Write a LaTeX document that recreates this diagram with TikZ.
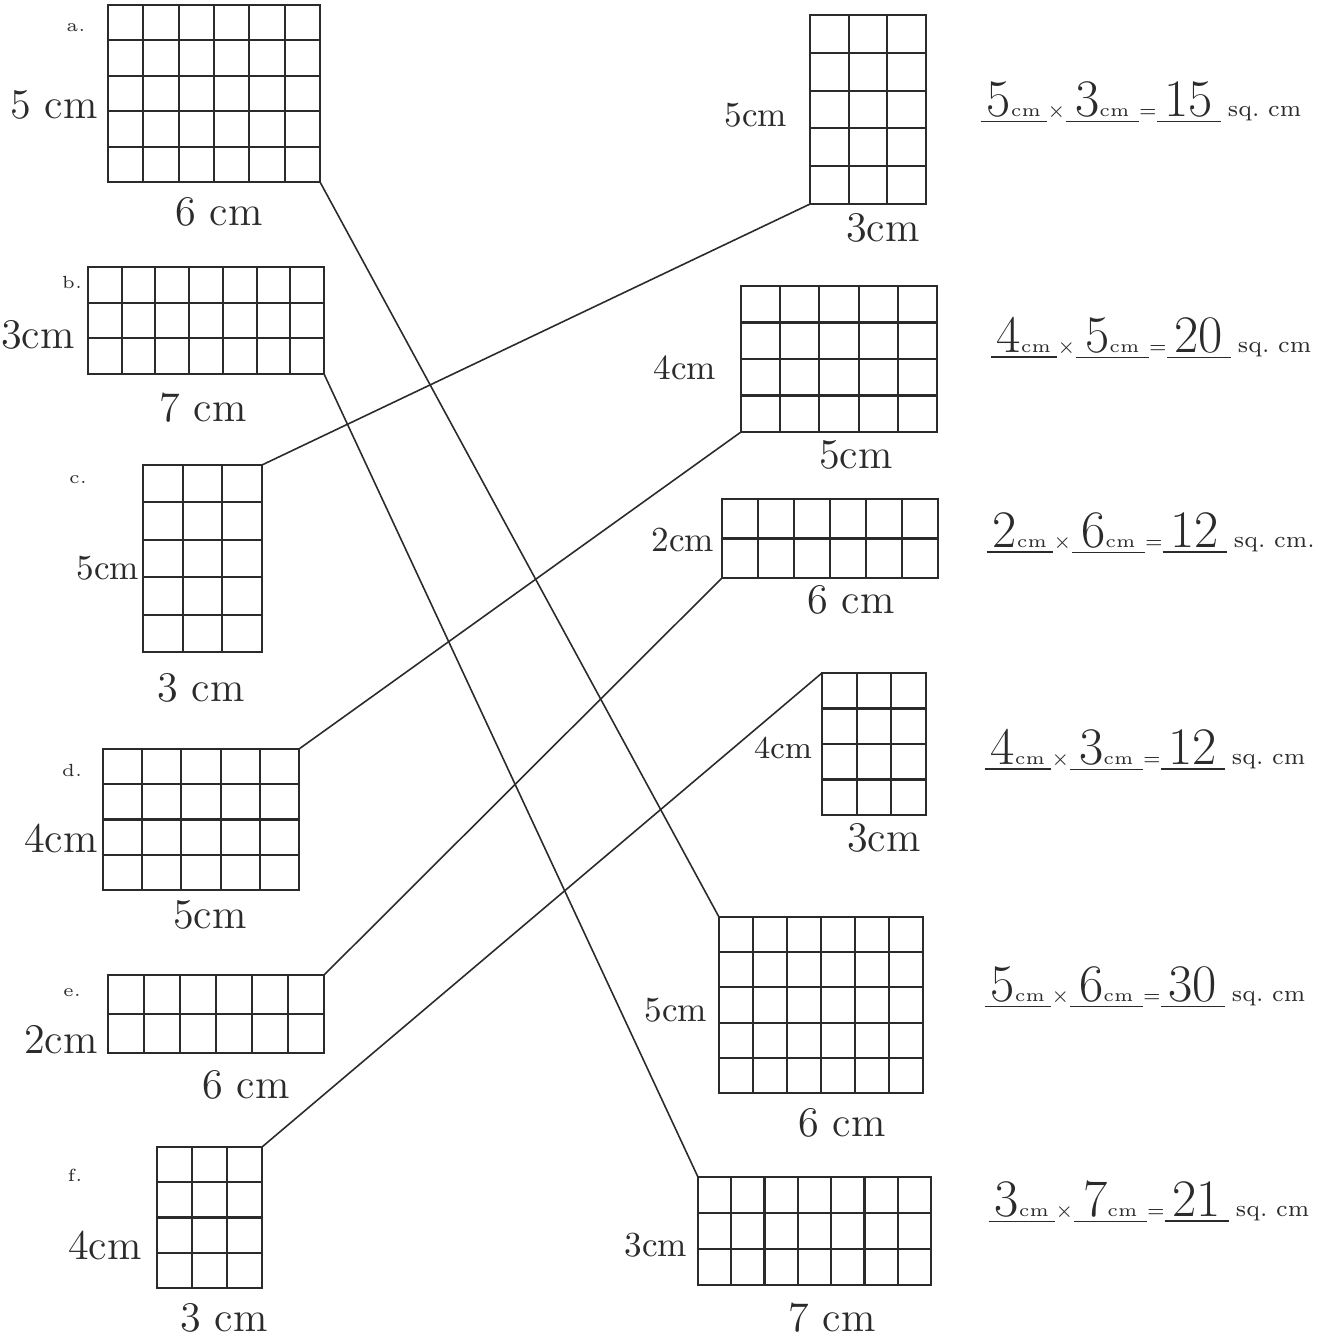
\documentclass[tikz,border=0pt]{standalone}
\usepackage{xcolor}
\usepackage{tikz}
\usetikzlibrary{calc}
\definecolor{pencil}{HTML}{2B2B2B}
\newcommand{\handnum}[1]{{\fontsize{15}{17}\selectfont #1}}
\newcommand{\handunit}[1]{{\fontsize{5}{6}\selectfont #1}}
\newcommand{\squnit}[1]{{\fontsize{6.5}{8}\selectfont #1}}
\newcommand{\ans}[2]{\underline{\makebox[#1]{#2}}}

\begin{document}
\begin{tikzpicture}[x=0.01cm, y=-0.01cm,
    every node/.style={font=\fontsize{12}{14}\selectfont, text=pencil},
    gridbox/.style 2 args={draw=pencil, line width=0.65pt, inner sep=0pt,
      outer sep=0pt, path picture={
        \foreach \i in {1,...,#1}
          \draw[pencil, line width=0.6pt]
            ($(path picture bounding box.south west)!\i/#1!(path picture bounding box.south east)$) --
            ($(path picture bounding box.north west)!\i/#1!(path picture bounding box.north east)$);
        \foreach \j in {1,...,#2}
          \draw[pencil, line width=0.6pt]
            ($(path picture bounding box.south west)!\j/#2!(path picture bounding box.north west)$) --
            ($(path picture bounding box.south east)!\j/#2!(path picture bounding box.north east)$);
      }},
    letter/.style={font=\fontsize{5}{6}\selectfont},
    dim/.style={font=\fontsize{12}{14}\selectfont, inner sep=1pt},
    dimsmall/.style={font=\fontsize{10}{12}\selectfont, inner sep=1pt},
    answer/.style={anchor=base west, inner sep=0pt},
    link/.style={draw=pencil, line width=0.45pt}]

  % page
  \useasboundingbox[fill=white] (0,0) rectangle (1338,1339);

  % Left column: rectangles a to f
  \node[gridbox={6}{5}, minimum width=2.12cm, minimum height=1.77cm] (ga) at (214,93.5) {};
  \node[gridbox={7}{3}, minimum width=2.36cm, minimum height=1.07cm] (gb) at (206,320.5) {};
  \node[gridbox={3}{5}, minimum width=1.19cm, minimum height=1.87cm] (gc) at (202.5,558.5) {};
  \node[gridbox={5}{4}, minimum width=1.96cm, minimum height=1.41cm] (gd) at (201,819.5) {};
  \node[gridbox={6}{2}, minimum width=2.16cm, minimum height=0.78cm] (ge) at (216,1014) {};
  \node[gridbox={3}{4}, minimum width=1.05cm, minimum height=1.41cm] (gf) at (209.5,1217.5) {};

  % letters
  \node[letter] (la) at (76,28) {a.};
  \node[letter] (lb) at (72,282) {b.};
  \node[letter] (lc) at (78,480) {c.};
  \node[letter] (ld) at (72,770) {d.};
  \node[letter] (le) at (72,993) {e.};
  \node[letter] (lf) at (75,1175) {f.};

  % side lengths, left
  \node[dim] (ha) at (54,105) {5 cm};
  \node[dim] (wa) at (219,212) {6 cm};
  \node[dim] (hb) at (38,335) {3cm};
  \node[dim] (wb) at (203,408) {7 cm};
  \node[dimsmall] (hc) at (108,568) {5cm};
  \node[dim] (wc) at (201,688) {3 cm};
  \node[dim] (hd) at (61,838) {4cm};
  \node[dim] (wd) at (210,915) {5cm};
  \node[dim] (he) at (61,1040) {2cm};
  \node[dim] (we) at (246,1085) {6 cm};
  \node[dim] (hf) at (105,1245) {4cm};
  \node[dim] (wf) at (224,1318) {3 cm};

  % Right column
  \node[gridbox={3}{5}, minimum width=1.16cm, minimum height=1.89cm] (ra) at (868,109.5) {};
  \node[gridbox={5}{4}, minimum width=1.96cm, minimum height=1.46cm] (rb) at (839,359) {};
  \node[gridbox={6}{2}, minimum width=2.16cm, minimum height=0.79cm] (rc) at (830,538.5) {};
  \node[gridbox={3}{4}, minimum width=1.04cm, minimum height=1.42cm] (rd) at (874,744) {};
  \node[gridbox={6}{5}, minimum width=2.04cm, minimum height=1.76cm] (re) at (821,1005) {};
  \node[gridbox={7}{3}, minimum width=2.33cm, minimum height=1.08cm] (rf) at (814.5,1231) {};

  % side lengths, right
  \node[dimsmall] (hra) at (756,115) {5cm};
  \node[dim] (wra) at (883,228) {3cm};
  \node[dimsmall] (hrb) at (685,368) {4cm};
  \node[dim] (wrb) at (856,455) {5cm};
  \node[dimsmall] (hrc) at (683,540) {2cm};
  \node[dim] (wrc) at (851,600) {6 cm};
  \node[dimsmall, font=\fontsize{9}{11}\selectfont] (hrd) at (783,748) {4cm};
  \node[dim] (wrd) at (884,838) {3cm};
  \node[dimsmall] (hre) at (676,1010) {5cm};
  \node[dim] (wre) at (842,1123) {6 cm};
  \node[dimsmall] (hrf) at (656,1245) {3cm};
  \node[dim] (wrf) at (832,1318) {7 cm};

  % areas
  \node[answer] (eqa) at (980,116) {\ans{0.66cm}{\handnum{5}\handunit{cm}}\handunit{$\times$}\ans{0.73cm}{\handnum{3}\handunit{cm}}\handunit{=}\ans{0.64cm}{\handnum{15}}\,\squnit{sq.~cm}};
  \node[answer] (eqb) at (990,352) {\ans{0.66cm}{\handnum{4}\handunit{cm}}\handunit{$\times$}\ans{0.73cm}{\handnum{5}\handunit{cm}}\handunit{=}\ans{0.64cm}{\handnum{20}}\,\squnit{sq.~cm}};
  \node[answer] (eqc) at (986,547) {\ans{0.66cm}{\handnum{2}\handunit{cm}}\handunit{$\times$}\ans{0.73cm}{\handnum{6}\handunit{cm}}\handunit{=}\ans{0.64cm}{\handnum{12}}\,\squnit{sq.~cm.}};
  \node[answer] (eqd) at (984,764) {\ans{0.66cm}{\handnum{4}\handunit{cm}}\handunit{$\times$}\ans{0.73cm}{\handnum{3}\handunit{cm}}\handunit{=}\ans{0.64cm}{\handnum{12}}\,\squnit{sq.~cm}};
  \node[answer] (eqe) at (984,1001) {\ans{0.66cm}{\handnum{5}\handunit{cm}}\handunit{$\times$}\ans{0.73cm}{\handnum{6}\handunit{cm}}\handunit{=}\ans{0.64cm}{\handnum{30}}\,\squnit{sq.~cm}};
  \node[answer] (eqf) at (988,1216) {\ans{0.66cm}{\handnum{3}\handunit{cm}}\handunit{$\times$}\ans{0.73cm}{\handnum{7}\handunit{cm}}\handunit{=}\ans{0.64cm}{\handnum{21}}\,\squnit{sq.~cm}};

  % matching lines
  \draw[link] (ga.south east) -- (re.north west);
  \draw[link] (gb.south east) -- (rf.north west);
  \draw[link] (gc.north east) -- (ra.south west);
  \draw[link] (gd.north east) -- (rb.south west);
  \draw[link] (ge.north east) -- (rc.south west);
  \draw[link] (gf.north east) -- (rd.north west);

\end{tikzpicture}
\end{document}
